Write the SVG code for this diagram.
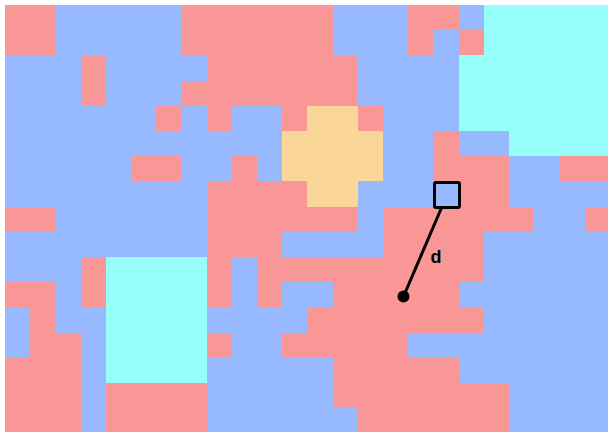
<svg xmlns="http://www.w3.org/2000/svg" width="608" height="432" viewBox="0 0 608 432">
<style>
.r{fill:#F99696}
.b{fill:#96B9FF}
.c{fill:#96FFFA}
.y{fill:#FBD797}
.lbl{font-family:"Liberation Sans",Arial,sans-serif;font-weight:bold;font-size:18px;fill:#000}
</style>
<rect x="0" y="0" width="608" height="432" fill="#FFFFFF"/>
<g id="grid" transform="translate(5,5) scale(25.2)" shape-rendering="crispEdges">
<rect class="b" x="0" y="0" width="24" height="17"/>
<!-- rows 0-1 -->
<rect class="r" x="0" y="0" width="2" height="2"/>
<rect class="r" x="7" y="0" width="6" height="2"/>
<rect class="r" x="16" y="0" width="2" height="1"/>
<rect class="r" x="16" y="1" width="1" height="1"/>
<rect class="r" x="18" y="1" width="1" height="1"/>
<rect class="c" x="19" y="0" width="5" height="2"/>
<!-- row 2 -->
<rect class="r" x="3" y="2" width="1" height="2"/>
<rect class="r" x="8" y="2" width="6" height="1"/>
<rect class="c" x="18" y="2" width="6" height="3"/>
<!-- row 3 -->
<rect class="r" x="7" y="3" width="7" height="1"/>
<!-- row 4 -->
<rect class="r" x="6" y="4" width="1" height="1"/>
<rect class="r" x="8" y="4" width="1" height="1"/>
<rect class="r" x="11" y="4" width="1" height="1"/>
<rect class="y" x="12" y="4" width="2" height="1"/>
<rect class="r" x="14" y="4" width="1" height="1"/>
<!-- row 5 -->
<rect class="y" x="11" y="5" width="4" height="2"/>
<rect class="r" x="17" y="5" width="1" height="1"/>
<rect class="c" x="20" y="5" width="4" height="1"/>
<!-- row 6 -->
<rect class="r" x="5" y="6" width="2" height="1"/>
<rect class="r" x="9" y="6" width="1" height="1"/>
<rect class="r" x="17" y="6" width="3" height="1"/>
<rect class="r" x="22" y="6" width="2" height="1"/>
<!-- row 7 -->
<rect class="r" x="8" y="7" width="4" height="1"/>
<rect class="y" x="12" y="7" width="2" height="1"/>
<rect class="r" x="18" y="7" width="2" height="1"/>
<!-- row 8 -->
<rect class="r" x="0" y="8" width="2" height="1"/>
<rect class="r" x="8" y="8" width="6" height="1"/>
<rect class="r" x="15" y="8" width="6" height="1"/>
<rect class="r" x="23" y="8" width="1" height="1"/>
<!-- row 9 -->
<rect class="r" x="8" y="9" width="3" height="1"/>
<rect class="r" x="15" y="9" width="4" height="1"/>
<!-- row 10 -->
<rect class="r" x="3" y="10" width="1" height="2"/>
<rect class="c" x="4" y="10" width="4" height="5"/>
<rect class="r" x="8" y="10" width="1" height="2"/>
<rect class="r" x="10" y="10" width="9" height="1"/>
<!-- row 11 -->
<rect class="r" x="0" y="11" width="2" height="1"/>
<rect class="r" x="10" y="11" width="1" height="1"/>
<rect class="r" x="13" y="11" width="5" height="1"/>
<!-- row 12 -->
<rect class="r" x="1" y="12" width="1" height="1"/>
<rect class="r" x="12" y="12" width="7" height="1"/>
<!-- row 13 -->
<rect class="r" x="1" y="13" width="2" height="1"/>
<rect class="r" x="8" y="13" width="1" height="1"/>
<rect class="r" x="11" y="13" width="5" height="1"/>
<!-- row 14 -->
<rect class="r" x="0" y="14" width="3" height="3"/>
<rect class="r" x="13" y="14" width="5" height="1"/>
<!-- rows 15-16 -->
<rect class="r" x="4" y="15" width="4" height="2"/>
<rect class="r" x="13" y="15" width="7" height="1"/>
<rect class="r" x="14" y="16" width="6" height="1"/>
</g>
<g id="connectors">
<line x1="403.5" y1="296.5" x2="447" y2="195" stroke="#000" stroke-width="3"/>
</g>
<g id="target">
<rect class="b" x="434.5" y="182.5" width="25" height="25" rx="1.5" stroke="#000" stroke-width="3"/>
</g>
<g id="point">
<circle cx="403.5" cy="296.5" r="6" fill="#000"/>
</g>
<g id="label">
<text class="lbl" x="430.6" y="263">d</text>
</g>
</svg>
